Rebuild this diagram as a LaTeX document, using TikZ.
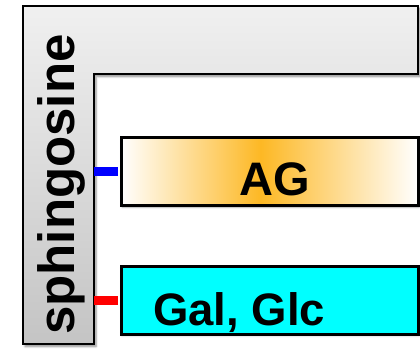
\documentclass[tikz,border=0pt]{standalone}
\usepackage{fontspec}
\setmainfont{Liberation Sans}
\usetikzlibrary{shadows.blur}
\definecolor{agorange}{RGB}{253,184,36}
\definecolor{lgtop}{RGB}{240,240,240}
\definecolor{lgbot}{RGB}{196,196,196}
\definecolor{galcyan}{RGB}{0,255,255}
\pgfdeclarehorizontalshading{agshade}{100bp}{color(0bp)=(white); color(25bp)=(white); color(48.5bp)=(agorange); color(75bp)=(white); color(100bp)=(white)}
\tikzset{
  lshape/.style={draw=black, line width=2.2pt, top color=lgtop, bottom color=lgbot, blur shadow={shadow xshift=2pt, shadow yshift=-2.5pt, shadow blur steps=6, shadow opacity=45}},
  boxnode/.style={draw=black, line width=3pt, minimum width=297pt, minimum height=68pt, inner sep=0pt, blur shadow={shadow xshift=1pt, shadow yshift=-1.5pt, shadow blur steps=4, shadow opacity=35}},
  lbl/.style={font=\bfseries\fontsize{47}{50}\selectfont, inner sep=0pt},
  conn/.style={line width=9pt}
}
\begin{document}
\begin{tikzpicture}[x=1pt,y=-1pt]
\useasboundingbox (0,0) rectangle (420,348);
% sphingosine L-shape
\path[lshape] (23,6) -- (418,6) -- (418,74) -- (94,74) -- (94,344) -- (23,344) -- cycle;
\coordinate (barR) at (94,200);
\node[rotate=90, anchor=base west, inner sep=0pt, font=\bfseries\fontsize{51}{53}\selectfont] (sph) at (74,335) {sphingosine};
% boxes
\node[boxnode, shading=agshade] (ag) at (269.5,171.5) {};
\node[lbl, anchor=base] (agtext) at (274.5,195) {AG};
\node[boxnode, fill=galcyan] (gal) at (269.5,300) {};
\node[lbl, anchor=base west, font=\bfseries\fontsize{45.5}{48}\selectfont] (galtext) at (153,325) {Gal, Glc};
% connectors
\draw[conn, blue] (barR |- ag.west) -- ([xshift=-1.5pt]ag.west);
\draw[conn, red] (barR |- gal.west) -- ([xshift=-1.5pt]gal.west);
\end{tikzpicture}
\end{document}
